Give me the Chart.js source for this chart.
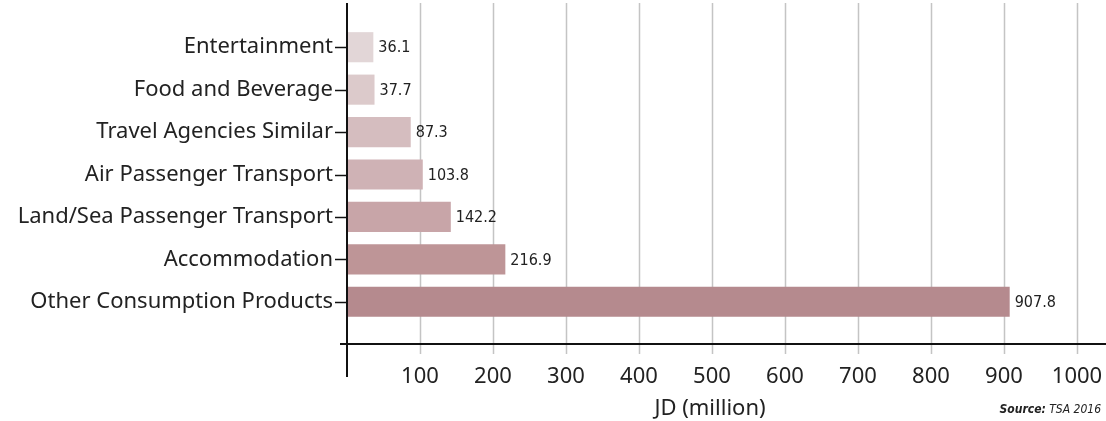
<!DOCTYPE html>
<html>
<head>
<meta charset="utf-8">
<script src="https://cdn.jsdelivr.net/npm/chart.js@4/dist/chart.umd.min.js"></script>
<style>
  html, body { margin: 0; padding: 0; background: #fff; }
  #wrap { width: 1106px; height: 421px; position: relative; }
</style>
</head>
<body>
<div id="wrap"><canvas id="spendChart"></canvas></div>
<script>
// Tourism spending by product, JD million
const categories = [
  "Entertainment",
  "Food and Beverage",
  "Travel Agencies Similar",
  "Air Passenger Transport",
  "Land/Sea Passenger Transport",
  "Accommodation",
  "Other Consumption Products",
];
const spending = [36.1, 37.7, 87.3, 103.8, 142.2, 216.9, 907.8];
const barColors = ["#e2d6d7", "#dccacb", "#d5bdbf", "#cfb2b5", "#c8a5a8", "#be9597", "#b58a8e"];
const xTicks = [100, 200, 300, 400, 500, 600, 700, 800, 900, 1000];

const labelFont = "'Noto Sans', 'Open Sans', sans-serif";
const narrowFont = "'Liberation Sans Narrow', 'DejaVu Sans Condensed', sans-serif";

// axis lines, grid, tick marks and tick labels drawn past the plot area
const axisDecor = {
  id: "axisDecor",
  beforeDatasetsDraw(chart) {
    const { ctx, scales } = chart;
    const x = scales.x;
    const axisY = 344;
    ctx.save();
    ctx.strokeStyle = "#c4c4c4";
    ctx.lineWidth = 1.5;
    xTicks.forEach((v) => {
      const px = Math.round(x.getPixelForValue(v)) + 0.5;
      ctx.beginPath();
      ctx.moveTo(px, 3);
      ctx.lineTo(px, axisY + 10);
      ctx.stroke();
    });
    ctx.restore();
  },
  afterDatasetsDraw(chart) {
    const { ctx, chartArea, scales } = chart;
    const x = scales.x, y = scales.y;
    const left = chartArea.left;
    const axisY = 344;
    ctx.save();
    ctx.strokeStyle = "#111";
    ctx.lineWidth = 2;
    // vertical axis
    ctx.beginPath();
    ctx.moveTo(left, 3);
    ctx.lineTo(left, 377);
    ctx.stroke();
    // horizontal axis
    ctx.beginPath();
    ctx.moveTo(left - 7, axisY);
    ctx.lineTo(chart.width, axisY);
    ctx.stroke();
    // category ticks
    ctx.lineWidth = 1.5;
    categories.forEach((c, i) => {
      const py = Math.round(y.getPixelForValue(i)) + 0.5;
      ctx.beginPath();
      ctx.moveTo(left - 12, py);
      ctx.lineTo(left, py);
      ctx.stroke();
    });

    // x tick labels
    ctx.fillStyle = "#222";
    ctx.font = "22px " + labelFont;
    ctx.textAlign = "center";
    ctx.textBaseline = "middle";
    xTicks.forEach((v) => {
      ctx.fillText(String(v), x.getPixelForValue(v), 377);
    });

    // value labels at the end of each bar
    ctx.font = "16px " + narrowFont;
    ctx.textAlign = "left";
    const meta = chart.getDatasetMeta(0);
    meta.data.forEach((bar, i) => {
      ctx.fillText(spending[i].toFixed(1), bar.x + 5, bar.y + 1);
    });

    // axis title and source note
    ctx.font = "22px " + labelFont;
    ctx.textAlign = "center";
    ctx.fillText("JD (million)", 710, 409);
    ctx.textAlign = "right";
    ctx.font = "italic 12px " + narrowFont;
    const tail = " TSA 2016";
    const tailW = ctx.measureText(tail).width;
    ctx.fillText(tail, 1101, 410);
    ctx.font = "italic bold 12px " + narrowFont;
    ctx.fillText("Source:", 1101 - tailW, 410);
    ctx.restore();
  },
};

new Chart(document.getElementById("spendChart"), {
  type: "bar",
  data: {
    labels: categories,
    datasets: [
      {
        data: spending,
        backgroundColor: barColors,
        borderWidth: 0,
        categoryPercentage: 1,
        barPercentage: 0.71,
      },
    ],
  },
  options: {
    indexAxis: "y",
    responsive: true,
    maintainAspectRatio: false,
    animation: false,
    layout: { padding: { top: 26, right: 29, bottom: 0, left: 0 } },
    plugins: {
      legend: { display: false },
      tooltip: { enabled: false },
    },
    scales: {
      x: {
        min: 0,
        max: 1000,
        grid: { display: false },
        border: { display: false },
        ticks: { display: false },
        afterFit: (scale) => { scale.height = 98; },
      },
      y: {
        grid: { display: false },
        border: { display: false },
        afterFit: (scale) => { scale.width = 347; },
        ticks: {
          padding: 6,
          color: "#222",
          font: { family: labelFont, size: 22 },
        },
      },
    },
  },
  plugins: [axisDecor],
});
</script>
</body>
</html>
